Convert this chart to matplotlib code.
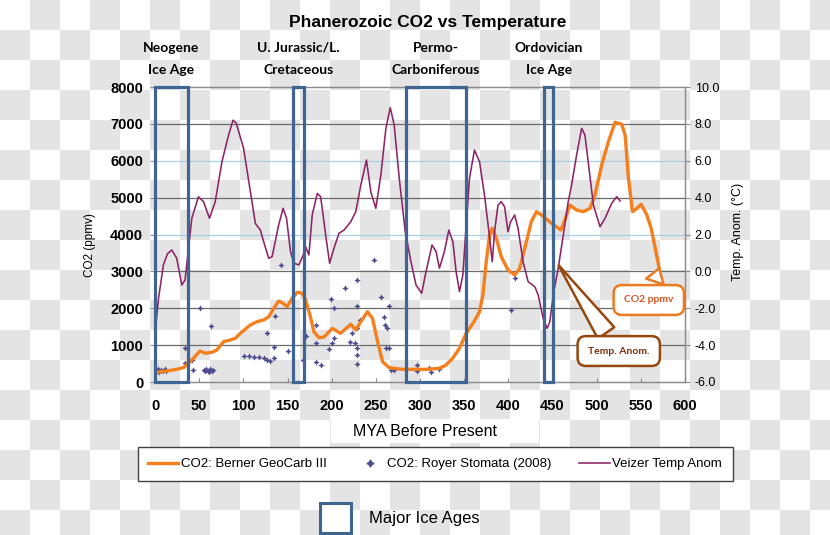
import numpy as np
import matplotlib
matplotlib.use('Agg')
import matplotlib.pyplot as plt
from matplotlib.patches import Rectangle
from matplotlib.lines import Line2D
import matplotlib.transforms as mtransforms

plt.rcParams['font.family'] = ['Liberation Sans', 'DejaVu Sans']
plt.rcParams['axes.unicode_minus'] = False

# ---------------- data ----------------
co2_mya = [0, 13, 24.6, 32, 38, 43.5, 51, 56.8, 64.4, 70, 77.6, 85.2, 91, 96.6, 108, 115.5, 123,
           128.8, 134.5, 140, 145, 149.6, 155.3, 161, 166.7, 170.5, 175.4, 179.9, 185.6, 191.3,
           200.8, 210, 221.6, 227.3, 233, 240.5, 246.2, 252, 257.6, 265.1, 280, 307, 322, 329.5,
           337, 344.7, 352.3, 360, 367.4, 371.2, 375, 378.8, 381.8, 386.4, 392, 399.6, 407.2,
           412.9, 420.5, 426, 431.8, 437.5, 448.9, 459.5, 464, 469.7, 477.3, 484.9, 492.4, 498,
           505.7, 513.3, 520.8, 528.4, 532.2, 536, 540.6, 545.5, 550.4, 556.8, 561.7, 566.3, 570.8]
co2_ppm = [263, 298, 344, 388, 507, 643, 841, 778, 805, 868, 1093, 1139, 1185, 1321, 1546, 1636, 1682,
           1771, 1999, 2197, 2134, 2042, 2270, 2433, 2405, 2224, 1817, 1364, 1201, 1220,
           1456, 1321, 1565, 1410, 1636, 1906, 1727, 1093, 551, 388, 344, 344, 371, 461,
           643, 914, 1321, 1592, 1906, 2359, 3262, 3986, 4168, 3897, 3400, 3037, 2902,
           3083, 3805, 4347, 4618, 4529, 4303, 4122, 4393, 4800, 4664, 4618, 4710, 5071,
           5885, 6517, 7043, 6988, 6698, 5524, 4618, 4710, 4819, 4529, 4168, 3626, 3083]

temp_mya = [1, 4, 9.5, 14, 19, 24.6, 30.3, 34, 37.9, 41.7, 49.2, 54.9, 61.7, 68.2, 75.8, 83.3, 88.3,
            92, 100.3, 108, 113.6, 119.3, 123, 128.8, 132.6, 140, 145, 148.9, 153.4, 157.2, 162.9,
            167.8, 170.5, 174.2, 178, 183.7, 187.5, 191.3, 193.2, 197.7, 202.6, 208.3, 214, 221.6,
            227.3, 233, 239.4, 244.3, 250, 255.7, 261.4, 266.3, 270.8, 276.5, 283.3, 289.8, 295.5,
            301.9, 306.8, 313.6, 318.2, 322, 327.6, 332.6, 337.2, 340.9, 344.7, 348.5, 352.3, 356,
            361.7, 367.4, 373, 378, 381.8, 384.4, 388.3, 392, 395.8, 399.6, 402.6, 407.2, 411,
            416.7, 422.4, 430, 433.8, 439.4, 444, 447, 450.8, 456.5, 462.2, 467.8, 471.6, 477.3,
            483, 486.7, 491.3, 496.3, 503.8, 509.5, 517, 522.7, 526.5]
temp_anom = [-2.9, -1.46, 0.35, 0.95, 1.16, 0.71, -0.74, -0.47, 1.25, 2.88, 4.05, 3.78, 2.88, 3.78,
             5.95, 7.4, 8.2, 8.03, 6.67, 4.32, 2.6, 2.24, 1.61, 0.71, 0.8, 2.52, 3.42, 2.88, 1.07,
             0.44, 0.35, 0.89, 1.34, 0.89, 3.06, 4.23, 4.05, 2.69, 1.97, 0.44, 1.25, 2.07, 2.24,
             2.69, 3.24, 4.68, 6.04, 4.32, 3.42, 5.23, 7.76, 8.88, 7.94, 5.05, 2.15, 0.52, -0.74,
             -1.19, -0.02, 1.43, 1.07, 0.17, 1.07, 2.24, 1.61, -0.02, -1.1, -0.2, 2.52, 5.05,
             6.58, 5.95, 4.14, 2.15, 0.52, 2.15, 3.6, 3.78, 3.5, 2.15, 2.69, 3.06, 2.33,
             0.52, -0.56, -0.83, -1.28, -2.55, -3.09, -2.73, -1.28, 0.17, 1.97, 3.78, 4.68, 6.31,
             7.76, 7.4, 5.59, 3.6, 2.42, 2.88, 3.69, 4.05, 3.82]

stomata_mya = [2, 3, 5, 7, 9, 11, 13, 34, 34, 41.7, 42.8, 50.4,
               55, 57, 58, 60, 61, 62, 64, 66, 63.2,
               100.4, 106, 111.7, 117.4, 123, 126.9, 130.7, 134.4,
               126.9, 135, 135.5, 143, 150.8, 167.8, 171.2, 182.6, 182.6, 182.6, 187.5,
               198.9, 202.6, 197, 200.8, 202.6, 215.2, 220.5, 222.7, 226.5,
               228.4, 228.4, 228.4, 228.4, 229.2, 228.4, 232.2, 248, 256.4, 259.4, 260.6,
               262.1, 265.1, 261.4, 264.4, 267, 269, 271, 297, 297, 310.5, 312.5, 321,
               408, 402.6]
stomata_ppm = [300, 360, 270, 320, 290, 340, 300, 914, 507, 597, 325, 1999,
               330, 290, 360, 300, 270, 340, 310, 330, 1519,
               714, 705, 687, 678, 642, 597, 579, 642,
               1321, 957, 1790, 3173, 841, 597, 1247, 1546, 1049, 551, 461,
               2251, 1999, 895, 1049, 1201, 2541, 1093, 1321, 1049,
               2766, 2069, 1456, 914, 732, 480, 1682, 3309, 2314, 1771, 1546,
               1473, 2069, 914, 914, 320, 360, 330, 461, 298, 380, 270, 352,
               2830, 1953]

ice_line1 = ["Neogene", "U. Jurassic/L.", "Permo-", "Ordovician"]
ice_line2 = ["Ice Age", "Cretaceous", "Carboniferous", "Ice Age"]
ice_start = [0, 156, 284, 440.5]
ice_end = [37, 168.5, 352, 451]

x_ticks = list(range(0, 601, 50))
co2_ticks = list(range(0, 8001, 1000))
temp_ticks = list(range(-6, 11, 2))

# ---------------- styles ----------------
W, H = 830, 535
C_CO2 = '#f57f1c'
C_TEMP = '#8e2466'
C_DOT = '#4d4d8f'
C_ICE = '#3f6592'
C_GRID = '#6b6b6b'
C_GRID2 = '#a9cde4'
C_SPINE = '#8c8c8c'

fig = plt.figure(figsize=(W / 100, H / 100), dpi=100)
fig.patch.set_facecolor('white')

# checkerboard background (transparency pattern of the reference)
yy, xx = np.mgrid[0:H, 0:W]
board = np.where(((xx // 30) + (yy // 30)) % 2 == 0, 1.0, 0.898)
fig.figimage(np.dstack([board] * 3), xo=0, yo=0, origin='upper', zorder=-10)

ax = fig.add_axes([155 / W, 1 - 382 / H, 530 / W, 295 / H])
ax.set_facecolor('none')
ax.set_xlim(0, 600)
ax.set_ylim(0, 8000)

for v in co2_ticks[1:-1]:
    ax.axhline(v, color=(C_GRID2 if v in (4000, 6000) else C_GRID), lw=0.9, zorder=0)

ax.plot(co2_mya, co2_ppm, color=C_CO2, lw=2.4, zorder=3, solid_capstyle='round',
        solid_joinstyle='round')
ax.scatter(stomata_mya, stomata_ppm, marker=(4, 1, 0), s=20, color=C_DOT, lw=0, zorder=2)

ax.set_xticks(x_ticks)
ax.set_xticklabels([str(t) for t in x_ticks], fontweight='bold', fontsize=10.5)
ax.tick_params(axis='x', direction='in', length=3, color=C_SPINE, pad=12)
ax.set_yticks(co2_ticks)
ax.set_yticklabels([str(t) for t in co2_ticks], fontweight='bold', fontsize=10.5)
ax.tick_params(axis='y', direction='out', length=3.5, color=C_SPINE, pad=5)

ax2 = ax.twinx()
ax2.set_ylim(-6, 10)
ax2.plot(temp_mya, temp_anom, color=C_TEMP, lw=1.15, zorder=3)
ax2.set_yticks(temp_ticks)
ax2.set_yticklabels(['%.1f' % t for t in temp_ticks], fontsize=9)
ax2.tick_params(axis='y', direction='out', length=3.5, color=C_SPINE, pad=3.5)

for a in (ax, ax2):
    for s in a.spines.values():
        s.set_color(C_SPINE)
        s.set_linewidth(0.9)

# ice age boxes
tr = ax2.get_xaxis_transform()
for s, e in zip(ice_start, ice_end):
    ax2.add_patch(Rectangle((s, 0), e - s, 1, transform=tr, fill=False, ec=C_ICE,
                            lw=2.3, zorder=5, clip_on=False))

blend = mtransforms.blended_transform_factory(ax.transData, fig.transFigure)
for l1, l2, s, e in zip(ice_line1, ice_line2, ice_start, ice_end):
    cx = (s + e) / 2
    fig.text(cx, 1 - 48 / H, l1, transform=blend, ha='center', va='center',
             fontsize=10, fontweight='bold', family=['Lato', 'DejaVu Sans'])
    fig.text(cx, 1 - 70 / H, l2, transform=blend, ha='center', va='center',
             fontsize=10, fontweight='bold', family=['Lato', 'DejaVu Sans'])

# titles and axis labels
fig.text(428 / W, 1 - 22 / H, 'Phanerozoic CO2 vs Temperature', ha='center', va='center',
         fontsize=12.5, fontweight='bold')
fig.text(90 / W, 1 - 245 / H, 'CO2 (ppmv)', rotation=90, ha='center', va='center', fontsize=8.5)
fig.text(738 / W, 1 - 232 / H, 'Temp. Anom. (°C)', rotation=90, ha='center', va='center',
         fontsize=9)
fig.add_artist(Rectangle((331 / W, 1 - 443 / H), 208 / W, 24 / H, transform=fig.transFigure,
                         fc='white', ec='none', zorder=1))
fig.text(425 / W, 1 - 432 / H, 'MYA Before Present', ha='center', va='center', fontsize=11.5,
         zorder=2)

# callouts
co2_tip = (co2_mya[-1], co2_ppm[-1])
ax2.annotate('CO2 ppmv', xy=co2_tip, xycoords=ax.transData,
             xytext=(559, 2224), textcoords=ax.transData,
             ha='center', va='center', fontsize=7.5, fontweight='bold', color='#d9531e',
             family=['Lato', 'DejaVu Sans'],
             bbox=dict(boxstyle='round,pad=1.0,rounding_size=0.8', fc='white', ec='#ec7a22', lw=1.8),
             arrowprops=dict(arrowstyle='wedge,tail_width=1.1,shrink_factor=0.5', fc='white',
                             ec='#ec7a22', lw=1.8, mutation_scale=12, shrinkB=0),
             zorder=8)
t_x = 457
t_tip = (t_x, float(np.interp(t_x, temp_mya, temp_anom)))
ax2.annotate('Temp. Anom.', xy=t_tip, xycoords='data',
             xytext=(525, -4.32), textcoords='data',
             ha='center', va='center', fontsize=7.5, fontweight='bold', color='#7a2e0a',
             family=['Lato', 'DejaVu Sans'],
             bbox=dict(boxstyle='round,pad=1.0,rounding_size=0.8', fc='white', ec='#96470f', lw=1.8),
             arrowprops=dict(arrowstyle='wedge,tail_width=1.2,shrink_factor=0.5', fc='white',
                             ec='#96470f', lw=1.8, mutation_scale=12, shrinkB=0),
             zorder=8)

# legend
handles = [Line2D([], [], color=C_CO2, lw=2.4),
           Line2D([], [], marker=(4, 1, 0), ls='none', color=C_DOT, markersize=5),
           Line2D([], [], color=C_TEMP, lw=1.15)]
labels = ['CO2: Berner GeoCarb III', 'CO2: Royer Stomata (2008)', 'Veizer Temp Anom']
leg = fig.legend(handles, labels, loc='center', ncol=3, mode='expand',
                 bbox_to_anchor=(137.5 / W, 1 - 482 / H, 595 / W, 36 / H),
                 frameon=True, fancybox=False, framealpha=1, edgecolor='#404040',
                 fontsize=9.5, handlelength=2.3, handletextpad=0.2, borderpad=0.8,
                 borderaxespad=0)
leg.get_frame().set_linewidth(1.0)

# major ice ages key
fig.add_artist(Rectangle((320 / W, 1 - 533 / H), 31 / W, 30 / H, transform=fig.transFigure,
                         fc='white', ec=C_ICE, lw=2.2))
fig.text(369 / W, 1 - 518 / H, 'Major Ice Ages', ha='left', va='center', fontsize=12)

fig.savefig('out.png', dpi=100)
